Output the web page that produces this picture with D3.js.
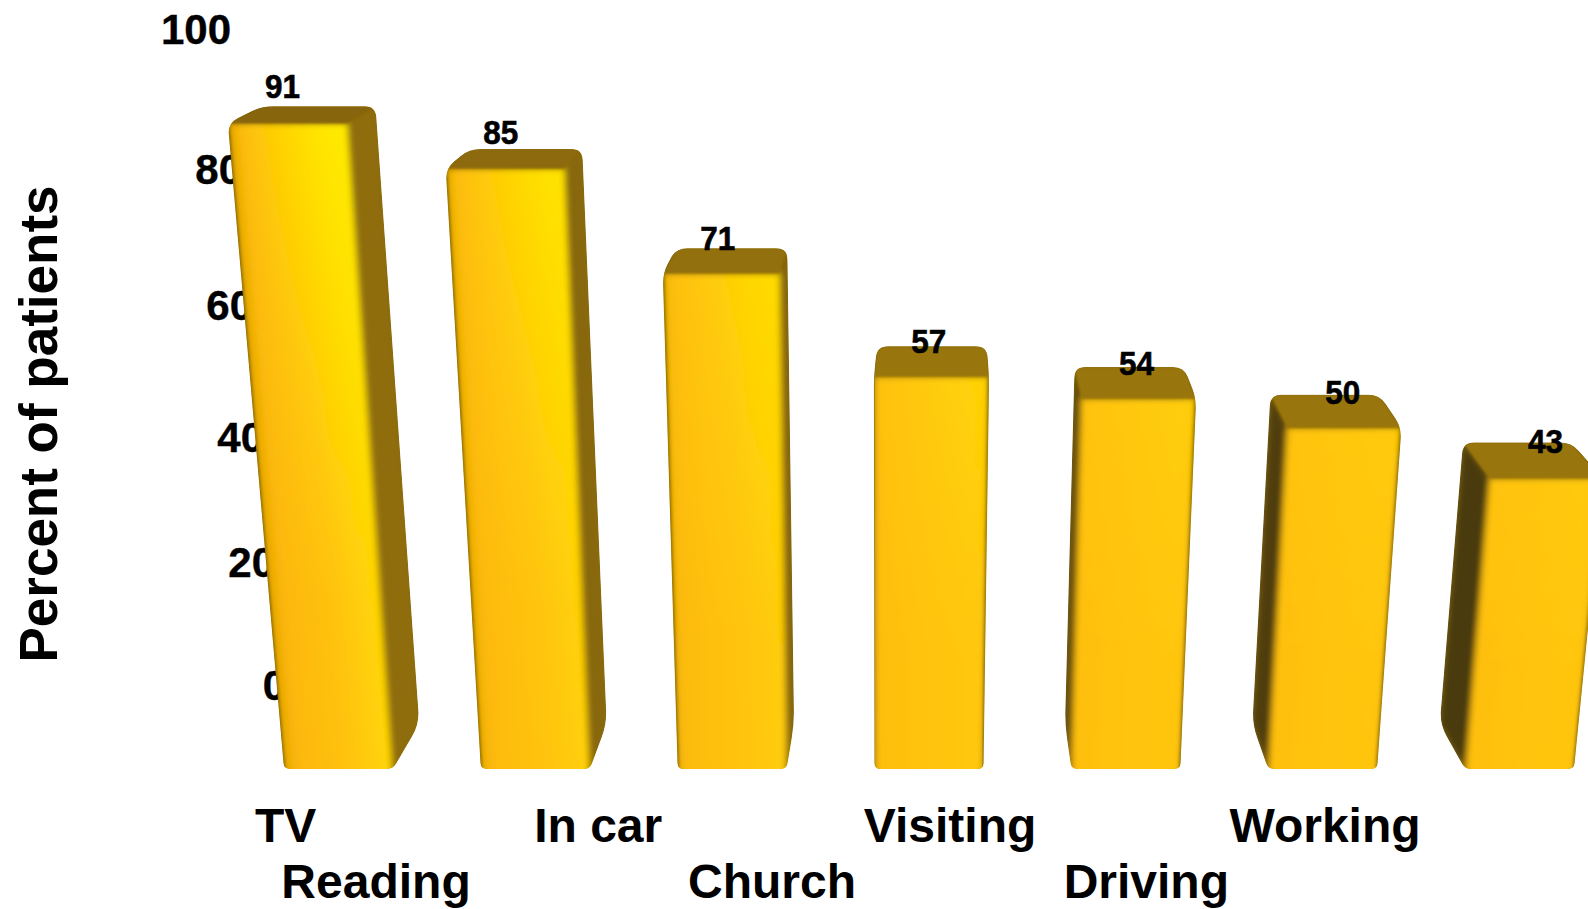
<!DOCTYPE html>
<html>
<head>
<meta charset="utf-8">
<script src="https://cdn.jsdelivr.net/npm/d3@7"></script>
<style>
  html, body { margin: 0; background: #fff; overflow: hidden; }
  text { font-family: "Liberation Sans", Arial, sans-serif; font-weight: 700; fill: #000; }
</style>
</head>
<body>
<svg id="chart" width="1588" height="909"></svg>
<script>
// Chart data
const values = [91, 85, 71, 57, 54, 50, 43];
const categories = ["TV", "Reading", "In car", "Church", "Visiting", "Driving", "Working"];
const yTicks = [0, 20, 40, 60, 80, 100];
const yTitle = "Percent of patients";

// Floor and height scales of the perspective view
const floorY = 769;
const barX = d3.scaleBand().domain(d3.range(values.length)).range([284, 1574]).paddingInner(0.446).paddingOuter(0);
const barY = d3.scalePow().exponent(1.065).domain([0, 100]).range([floorY, 55]);
const wallY = d3.scaleLinear().domain(yTicks).range([684, 561.7, 436, 304.5, 168.7, 28]);
const wallX = d3.scaleLinear().domain([0, 100]).range([286, 231]);

// Perspective helpers: verticals lean away from a centre, depth rises with height
const leanCentre = 885, leanDistance = 6911;
const depthCentre = 940, depthShare = 0.048;
const depthRise = d3.scaleLinear().domain([floorY, 483, 123]).range([45, 36, 17]);
const leanX = (x, y) => x + (x - leanCentre) * (floorY - y) / leanDistance;
const toBack = ([x, y]) => [x + (depthCentre - x) * depthShare, y - depthRise(y)];

// Label placement relative to the bars
const valueLift = d3.scaleLinear().domain([106, 248, 347, 369, 398, 447]).range([-8, 2, 7, 8, 9, 11]);
const categoryRow = [842, 898];
const categoryShift = [-83.5, -254, -198, -241, -262, -259, -290];

const svg = d3.select("#chart");
const defs = svg.append("defs");
const blur = (id, s) => defs.append("filter").attr("id", id)
  .attr("x", "-20%").attr("y", "-20%").attr("width", "140%").attr("height", "140%")
  .append("feGaussianBlur").attr("stdDeviation", s);
blur("soft", 3);
blur("softer", 1.2);

// Closed polygon with rounded corners; the radius may vary per corner
function roundedPath(points, radius) {
  const n = points.length;
  let d = "";
  points.forEach((p, i) => {
    const a = points[(i + n - 1) % n], b = points[(i + 1) % n];
    const r = radius(p);
    const la = Math.hypot(a[0] - p[0], a[1] - p[1]), lb = Math.hypot(b[0] - p[0], b[1] - p[1]);
    const ra = Math.min(r, la / 2), rb = Math.min(r, lb / 2);
    const s = [p[0] + (a[0] - p[0]) * ra / la, p[1] + (a[1] - p[1]) * ra / la];
    const e = [p[0] + (b[0] - p[0]) * rb / lb, p[1] + (b[1] - p[1]) * rb / lb];
    d += `${i ? "L" : "M"}${s[0]},${s[1]}Q${p[0]},${p[1]} ${e[0]},${e[1]}`;
  });
  return d + "Z";
}
const polygon = pts => "M" + pts.join("L") + "Z";

// Axis labels sit on the back wall, behind the bars
const axis = svg.append("g").call(d3.axisLeft(wallY).tickValues(yTicks).tickSize(0));
axis.select(".domain").remove();
axis.attr("font-size", null).attr("font-family", null);
axis.selectAll("text")
  .attr("font-size", 42).attr("dy", "0.36em")
  .attr("x", d => wallX(d))
  .attr("stroke", "#000").attr("stroke-width", 0.4);

svg.append("text")
  .attr("transform", "translate(57,424) rotate(-90)")
  .attr("text-anchor", "middle")
  .attr("font-size", 53)
  .text(yTitle);

// Light changes across the row of bars, from the left end to the right end
const rowT = d3.scaleLinear().domain([0, values.length - 1]);
const mix = (a, b, t) => d3.interpolateRgb(a, b)(t);
const frontStops = t => {
  const k = Math.min(1, t * 1.8);
  return [
    [0, mix("#e4a600", "#ffc00a", k)],
    [0.12, mix("#fdb70a", "#ffc00a", k)],
    [0.55, mix("#ffc20a", "#ffc40a", k)],
    [0.88, mix("#ffd208", "#ffc60a", k)],
    [1, mix("#ffd800", "#ffc408", k)]
  ];
};
// The upper part of each front picks up more yellow towards the lit edge
const glowStops = t => {
  const s = Math.pow(1 - t, 2);
  return [[0, 0.05], [0.12, 0.1], [0.5, 0.1 + 0.4 * s], [0.9, 0.12 + 0.8 * s], [1, 0.12 + 0.8 * s]];
};

const bars = svg.selectAll("g.bar").data(values).join("g").attr("class", "bar");

bars.each(function (v, i) {
  const g = d3.select(this);
  const t = rowT(i);
  const x0 = barX(i), x1 = x0 + barX.bandwidth();
  const top = barY(v);
  const fBL = [x0, floorY], fBR = [x1, floorY];
  const fTL = [leanX(x0, top), top], fTR = [leanX(x1, top), top];
  const bBL = toBack(fBL), bBR = toBack(fBR), bTL = toBack(fTL), bTR = toBack(fTR);
  const frontDown = [[x0, floorY + 12], [x1, floorY + 12], fTR, fTL];

  // Outer silhouette clips the soft shading
  const hull = d3.polygonHull([fBL, fBR, fTL, fTR, bBL, bBR, bTL, bTR]);
  const outline = roundedPath(hull, p => (p[1] > floorY - 2 ? 6 : p[1] > floorY - 60 ? 14 : 11));
  const clipId = `outline-${i}`;
  defs.append("clipPath").attr("id", clipId).append("path").attr("d", outline);

  // Front gradient runs square to the leaning axis of the bar
  const ax = fTL[0] - fBL[0], ay = fTL[1] - fBL[1];
  const len = Math.hypot(ax, ay), nx = -ay / len, ny = ax / len;
  const mid = [(fTL[0] + fBL[0]) / 2, (fTL[1] + fBL[1]) / 2];
  const span = ((fTR[0] + fBR[0]) / 2 - mid[0]) * nx;
  const acrossFront = id => defs.append("linearGradient").attr("id", id)
    .attr("gradientUnits", "userSpaceOnUse")
    .attr("x1", mid[0]).attr("y1", mid[1])
    .attr("x2", mid[0] + nx * span).attr("y2", mid[1] + ny * span);

  const grad = acrossFront(`front-${i}`);
  frontStops(t).forEach(([o, c]) => grad.append("stop").attr("offset", o).attr("stop-color", c));
  const glow = acrossFront(`glow-${i}`);
  glowStops(t).forEach(([o, a]) => glow.append("stop").attr("offset", o)
    .attr("stop-color", "#ffea00").attr("stop-opacity", a));

  // Vertical fade applied to the yellow glow
  const fade = defs.append("linearGradient").attr("id", `fade-${i}`)
    .attr("gradientUnits", "userSpaceOnUse")
    .attr("x1", 0).attr("x2", 0).attr("y1", top).attr("y2", floorY);
  fade.append("stop").attr("offset", 0).attr("stop-color", "#fff");
  fade.append("stop").attr("offset", 0.75).attr("stop-color", "#000");
  defs.append("mask").attr("id", `fade-mask-${i}`)
    .attr("maskUnits", "userSpaceOnUse")
    .attr("x", 0).attr("y", 0).attr("width", 1588).attr("height", 909)
    .append("rect").attr("width", 1588).attr("height", 909).attr("fill", `url(#fade-${i})`);

  const body = g.append("g").attr("clip-path", `url(#${clipId})`);

  // Base colour so the blur never lets white through at the outline
  body.append("path").attr("d", outline).attr("fill", "#8a6a08");

  const shaded = body.append("g").attr("filter", "url(#soft)");
  shaded.append("path").attr("d", polygon([fTL, bTL, bBL, fBL])).attr("fill", mix("#6a520c", "#4a3a0c", t));
  shaded.append("path").attr("d", polygon([fTR, bTR, bBR, fBR])).attr("fill", mix("#8f6d08", "#7a5c06", i / 3));
  shaded.append("path").attr("d", polygon(frontDown)).attr("fill", `url(#front-${i})`);
  shaded.append("g").attr("mask", `url(#fade-mask-${i})`)
    .append("path").attr("d", polygon(frontDown)).attr("fill", `url(#glow-${i})`);

  // Thin dark rim where the front meets a side hidden by the viewing angle
  const rim = [];
  if (i <= 3) rim.push([fTL, fBL]);
  if (i >= 3) rim.push([fTR, fBR]);
  rim.forEach(([a, b]) => body.append("path").attr("d", `M${a}L${b}`)
    .attr("stroke", "#5a4508").attr("stroke-width", 3).attr("stroke-opacity", 0.4)
    .attr("fill", "none").attr("filter", "url(#softer)"));

  // Top face and the bright bevel along its front edge
  body.append("path").attr("d", `M${fTL}L${fTR}`)
    .attr("stroke", "#ffff00").attr("stroke-width", 5).attr("fill", "none")
    .attr("transform", "translate(0,4)")
    .attr("filter", "url(#softer)");
  body.append("path").attr("d", polygon([fTL, fTR, bTR, bTL]))
    .attr("fill", mix("#876507", "#987508", Math.min(1, t * 2)))
    .attr("filter", "url(#softer)");

  // Value printed above the bar
  const labelY = bTL[1] + valueLift(bTL[1]);
  g.append("text")
    .attr("x", leanX((x0 + x1) / 2, labelY) - 3)
    .attr("y", labelY)
    .attr("text-anchor", "middle")
    .attr("font-size", 33)
    .attr("textLength", 35)
    .attr("lengthAdjust", "spacingAndGlyphs")
    .attr("stroke", "#000").attr("stroke-width", 0.6)
    .text(v);
});

// Category names alternate between two rows under the floor
svg.selectAll("text.category").data(categories).join("text")
  .attr("class", "category")
  .attr("font-size", 48)
  .attr("x", (d, i) => barX(i) + barX.bandwidth() / 2 + categoryShift[i])
  .attr("y", (d, i) => categoryRow[i % 2])
  .text(d => d);
</script>
</body>
</html>
